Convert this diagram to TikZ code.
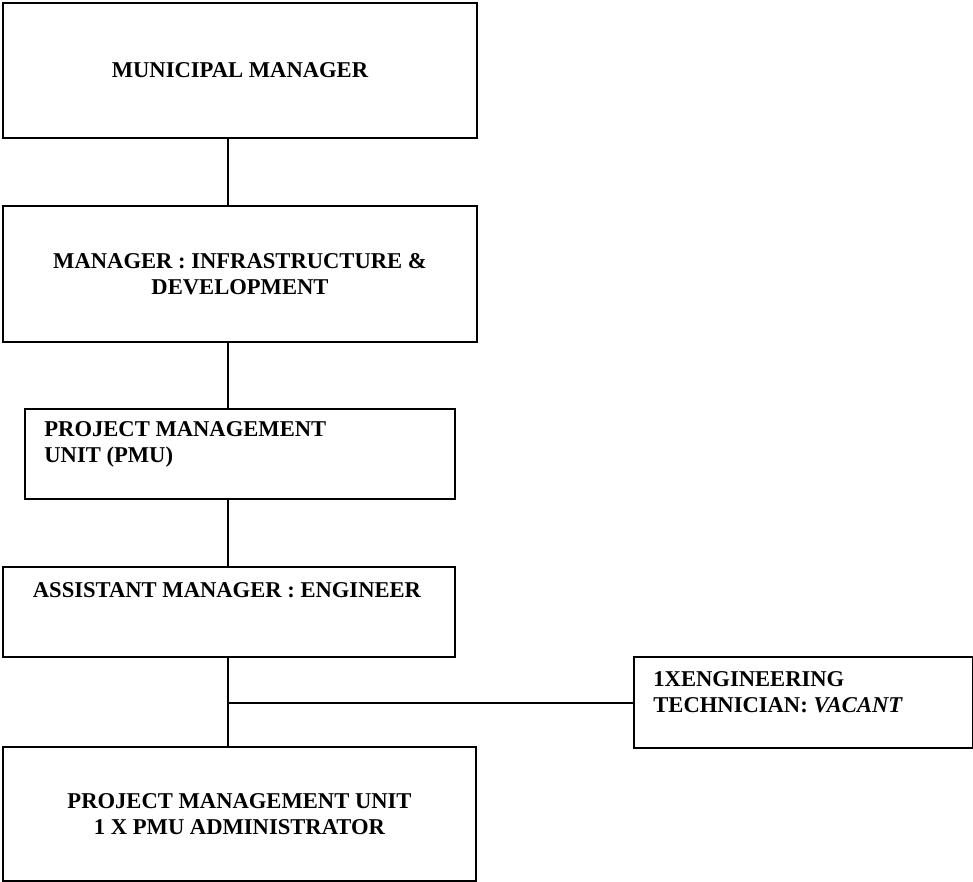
\documentclass[tikz,border=0pt]{standalone}
\usepackage{fontspec}
\setmainfont{Liberation Serif}
\begin{document}
\begin{tikzpicture}[x=0.5pt,y=-0.5pt,
    box/.style={draw, line width=1pt, rectangle, inner sep=0pt, anchor=north west},
    txt/.style={font=\fontsize{11.3}{13}\selectfont\bfseries, inner sep=0pt}]

        \useasboundingbox (0,0) rectangle (973,882);
        \coordinate(SP) at (228,0);

        % boxes:
        \node(MM)[box, txt, minimum width=237pt, minimum height=67.5pt] at (2,2){MUNICIPAL MANAGER};
        \node(MID)[box, txt, align=center, minimum width=237pt, minimum height=68pt] at (2,205){MANAGER : INFRASTRUCTURE \&\\DEVELOPMENT};
        \node(PMU)[box, minimum width=215pt, minimum height=45pt] at (24,408){};
        \node(PMUt)[txt, align=left, anchor=west] at (44,444){PROJECT MANAGEMENT\\UNIT (PMU)};
        \node(AME)[box, minimum width=226pt, minimum height=45pt] at (2,566){};
        \node(AMEt)[txt] at (227,590){ASSISTANT MANAGER : ENGINEER};
        \node(TECH)[box, minimum width=169.5pt, minimum height=45.5pt] at (633,656){};
        \node(TECHt)[txt, align=left, anchor=west] at (653,692){1XENGINEERING\\TECHNICIAN: \textit{VACANT}};
        \node(ADM)[box, txt, align=center, minimum width=236.5pt, minimum height=67pt] at (2,746){PROJECT MANAGEMENT UNIT\\1 X PMU ADMINISTRATOR};

        % connectors:
        \draw[line width=1pt] (MM.south -| SP) -- (MID.north -| SP);
        \draw[line width=1pt] (MID.south -| SP) -- (PMU.north -| SP);
        \draw[line width=1pt] (PMU.south -| SP) -- (AME.north -| SP);
        \draw[line width=1pt] (AME.south -| SP) -- (ADM.north -| SP);
        \draw[line width=1pt] (TECH.west) -- (TECH.west -| SP);

\end{tikzpicture}
\end{document}
